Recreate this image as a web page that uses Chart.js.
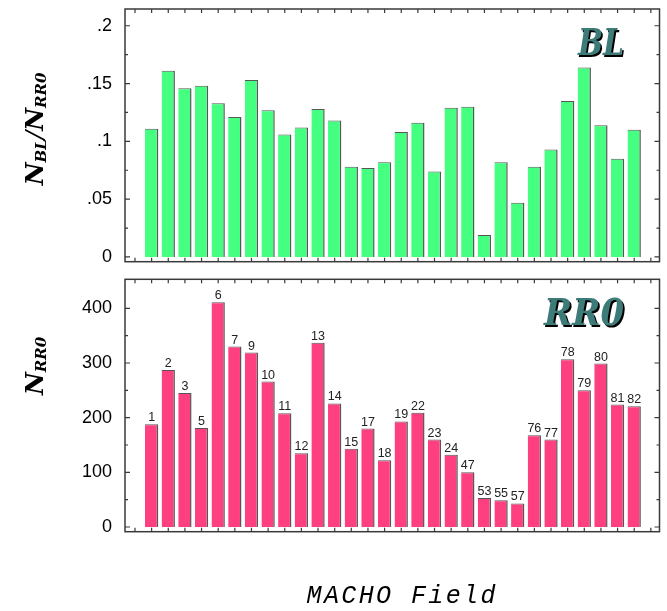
<!DOCTYPE html>
<html>
<head>
<meta charset="utf-8">
<script src="https://cdn.jsdelivr.net/npm/chart.js@4.4.0/dist/chart.umd.min.js"></script>
<style>
  body { margin: 0; background: #fff; }
  #wrap { position: relative; width: 667px; height: 611px; }
  #blBox { position: absolute; left: 0; top: 0; width: 667px; height: 270px; }
  #rrBox { position: absolute; left: 0; top: 270px; width: 667px; height: 341px; }
</style>
</head>
<body>
<div id="wrap">
  <div id="blBox"><canvas id="blChart" width="667" height="270"></canvas></div>
  <div id="rrBox"><canvas id="rrChart" width="667" height="341"></canvas></div>
</div>
<script>
// MACHO field ids, one bar per field
const fieldIds = ['1', '2', '3', '5', '6', '7', '9', '10', '11', '12', '13', '14', '15', '17', '18',
                  '19', '22', '23', '24', '47', '53', '55', '57', '76', '77', '78', '79', '80', '81', '82'];
// N_BL / N_RR0 (top panel)
const blRatio = [0.111, 0.161, 0.146, 0.148, 0.133, 0.121, 0.153, 0.127, 0.106, 0.112,
                 0.128, 0.118, 0.078, 0.077, 0.082, 0.108, 0.116, 0.074, 0.129, 0.130,
                 0.019, 0.082, 0.047, 0.078, 0.093, 0.135, 0.164, 0.114, 0.085, 0.110];
// N_RR0 (bottom panel)
const rr0Count = [188, 287, 245, 181, 411, 330, 319, 266, 208, 135,
                  337, 226, 143, 180, 122, 193, 209, 160, 132, 100,
                  53, 49, 43, 168, 160, 307, 250, 299, 224, 221];

const blTicks = [0, 0.05, 0.1, 0.15, 0.2];
const blTickLabels = ['0', '.05', '.1', '.15', '.2'];
const blMinor = [0.025, 0.075, 0.125, 0.175];
const rrTicks = [0, 100, 200, 300, 400];
const rrTickLabels = ['0', '100', '200', '300', '400'];
const rrMinor = [50, 150, 250, 350];

// inward ticks + box frame
const framePlugin = {
    id: 'frame',
    afterDraw(chart, args, opts) {
        const {ctx, chartArea: a} = chart;
        const x = chart.scales.x, y = chart.scales.y;
        ctx.save();
        ctx.strokeStyle = '#3a3a3a';
        ctx.lineWidth = 1.5;
        ctx.strokeRect(a.left, a.top, a.right - a.left, a.bottom - a.top);
        ctx.lineWidth = 1.2;
        ctx.beginPath();
        for (let p = Math.ceil(x.min); p <= Math.floor(x.max); p++) {
            const px = x.getPixelForValue(p);
            ctx.moveTo(px, a.top); ctx.lineTo(px, a.top + 4);
            ctx.moveTo(px, a.bottom); ctx.lineTo(px, a.bottom - 4);
        }
        const side = (v, len) => {
            const py = y.getPixelForValue(v);
            ctx.moveTo(a.left, py); ctx.lineTo(a.left + len, py);
            ctx.moveTo(a.right, py); ctx.lineTo(a.right - len, py);
        };
        opts.major.forEach(v => side(v, 5));
        opts.minor.forEach(v => side(v, 3));
        ctx.stroke();
        ctx.restore();
    }
};

// big shadowed panel tag (BL / RR0) and rotated y title with subscripts
const decoPlugin = {
    id: 'deco',
    afterDraw(chart, args, opts) {
        const ctx = chart.ctx;
        ctx.save();
        // tag
        ctx.font = 'bold italic 37px "DejaVu Serif"';
        ctx.textBaseline = 'alphabetic';
        ctx.textAlign = 'left';
        const w = ctx.measureText(opts.tag).width;
        const sx = opts.tagWidth / w;
        ctx.save();
        ctx.translate(opts.tagRight - opts.tagWidth, opts.tagBase);
        ctx.scale(sx, 1);
        ctx.fillStyle = '#000';
        ctx.fillText(opts.tag, 2, 2);
        ctx.fillStyle = '#3d7b79';
        ctx.fillText(opts.tag, 0, 0);
        ctx.restore();

        // y title
        const mainFont = 'bold italic 25px "DejaVu Serif"';
        const subFont = 'bold italic 15px "DejaVu Serif"';
        const slashFont = 'italic 25px "DejaVu Serif"';
        const parts = opts.title.map(p => ({t: p[0], font: p[1] === 'sub' ? subFont : (p[1] === 'slash' ? slashFont : mainFont), dy: p[1] === 'sub' ? 3 : 0}));
        let total = 0;
        parts.forEach(p => { ctx.font = p.font; p.w = ctx.measureText(p.t).width; total += p.w; });
        ctx.translate(opts.titleX, opts.titleY);
        ctx.rotate(-Math.PI / 2);
        ctx.fillStyle = '#000';
        let cx = -total / 2;
        parts.forEach(p => {
            ctx.font = p.font;
            ctx.fillText(p.t, cx, p.dy);
            cx += p.w;
        });
        ctx.restore();
    }
};

const barLabelPlugin = {
    id: 'barLabels',
    afterDatasetsDraw(chart) {
        const ctx = chart.ctx;
        ctx.save();
        ctx.font = '12.5px "Liberation Sans"';
        ctx.fillStyle = '#222';
        ctx.textAlign = 'center';
        ctx.textBaseline = 'alphabetic';
        chart.getDatasetMeta(0).data.forEach((bar, i) => {
            ctx.fillText(fieldIds[i], bar.x, bar.y - 3);
        });
        // x axis title
        ctx.font = 'italic 25px "Liberation Mono"';
        ctx.fillStyle = '#000';
        ctx.textAlign = 'center';
        const label = 'MACHO Field';
        const pitch = 17.4;
        const start = 401 - pitch * (label.length - 1) / 2;
        for (let i = 0; i < label.length; i++) {
            ctx.fillText(label[i], start + i * pitch, 333);
        }
        ctx.restore();
    }
};

function makeChart(id, values, cfg) {
    const ctx = document.getElementById(id).getContext('2d');
    return new Chart(ctx, {
        type: 'bar',
        data: {
            datasets: [{
                data: values.map((v, i) => ({x: i + 1, y: v})),
                backgroundColor: cfg.color,
                borderColor: 'rgba(45, 45, 45, 0.8)',
                borderWidth: {top: 1, right: 1.5, bottom: 0, left: 0},
                borderSkipped: false,
                barPercentage: 0.8,
                categoryPercentage: 1.0
            }]
        },
        options: {
            responsive: false,
            animation: false,
            layout: {padding: cfg.padding},
            plugins: {
                legend: {display: false},
                tooltip: {enabled: false},
                frame: {major: cfg.ticks, minor: cfg.minor},
                deco: {tag: cfg.tag, tagRight: 624, tagWidth: cfg.tagWidth, tagBase: cfg.tagBase,
                       title: cfg.title, titleX: 43, titleY: cfg.titleY}
            },
            scales: {
                x: {
                    type: 'linear',
                    display: false,
                    offset: false,
                    min: -0.6,
                    max: 31.52
                },
                y: {
                    type: 'linear',
                    position: 'left',
                    min: cfg.min,
                    max: cfg.max,
                    grid: {display: false},
                    border: {display: false},
                    afterBuildTicks: s => { s.ticks = cfg.ticks.map(v => ({value: v})); },
                    afterFit: s => { s.width = 125; s.paddingTop = 0; s.paddingBottom = 0; },
                    ticks: {
                        padding: 5,
                        color: '#000',
                        font: {family: '"Liberation Sans"', size: 18},
                        callback: v => cfg.tickLabels[cfg.ticks.indexOf(v)]
                    }
                }
            }
        },
        plugins: cfg.plugins
    });
}

makeChart('blChart', blRatio, {
    color: '#44ff80',
    padding: {top: 9, right: 7.5, bottom: 8.3, left: 0},
    min: -0.0041, max: 0.2145,
    ticks: blTicks, tickLabels: blTickLabels, minor: blMinor,
    tag: 'BL', tagWidth: 46, tagBase: 55,
    title: [['N', 'main'], ['BL', 'sub'], ['/', 'slash'], ['N', 'main'], ['RR0', 'sub']],
    titleY: 129,
    plugins: [framePlugin, decoPlugin]
});

makeChart('rrChart', rr0Count, {
    color: '#ff4080',
    padding: {top: 9.3, right: 7.5, bottom: 79.3, left: 0},
    min: -8.6, max: 453.1,
    ticks: rrTicks, tickLabels: rrTickLabels, minor: rrMinor,
    tag: 'RR0', tagWidth: 80, tagBase: 55,
    title: [['N', 'main'], ['RR0', 'sub']],
    titleY: 96,
    plugins: [framePlugin, decoPlugin, barLabelPlugin]
});
</script>
</body>
</html>
